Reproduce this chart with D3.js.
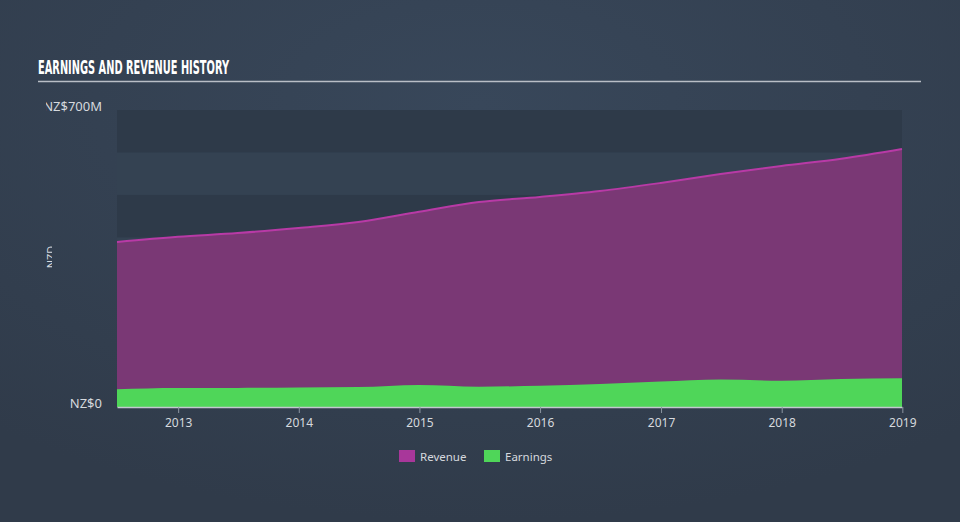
<!DOCTYPE html>
<html><head><meta charset="utf-8">
<script src="https://cdnjs.cloudflare.com/ajax/libs/d3/7.8.5/d3.min.js"></script>
<style>
html,body{margin:0;padding:0;}
body{width:960px;height:522px;overflow:hidden;background:#333f4f;}
</style></head>
<body>
<svg id="chart" width="960" height="522"></svg>
<script>
const dates = ["2012-06-30","2012-12-31","2013-06-30","2013-12-31","2014-06-30","2014-12-31","2015-06-30","2015-12-31","2016-06-30","2016-12-31","2017-06-30","2017-12-31","2018-06-30","2018-12-31"];
const revenue = [389,401,410,422,436,460,483,495,509,528,549,568,585,608];
const earnings = [42,45,45,46,47,52,48,50,54,60,65,62,66,68];
const yTickLabels = ["NZ$0","NZ$700M"];
const yTickValues = [0,700];
const xTickYears = [2013,2014,2015,2016,2017,2018,2019];

(function(){
const svg = d3.select("#chart");
const W = 960, H = 522;
const defs = svg.append("defs");
const grad = defs.append("radialGradient").attr("id","bg").attr("cx","50%").attr("cy","20%").attr("r","80%");
grad.append("stop").attr("offset","0%").attr("stop-color","#38475a");
grad.append("stop").attr("offset","100%").attr("stop-color","#303b4a");
svg.append("rect").attr("width",W).attr("height",H).attr("fill","url(#bg)");

const pL = 117, pR = 902, pT = 110, pB = 407;
const parse = d3.timeParse("%Y-%m-%d");
const data = dates.map((d,i)=>({date:parse(d), rev:revenue[i], earn:earnings[i]}));
const x = d3.scaleTime().domain([data[0].date, data[data.length-1].date]).range([pL,pR]);
const y = d3.scaleLinear().domain([0,700]).range([pB,pT]);

// title
svg.append("text").attr("x",38).attr("y",74).text("EARNINGS AND REVENUE HISTORY")
  .attr("fill","#ffffff").attr("font-family","'Liberation Sans Narrow','DejaVu Sans Condensed',sans-serif")
  .attr("font-weight","bold").attr("font-size",19)
  .attr("textLength",191).attr("lengthAdjust","spacingAndGlyphs");
svg.append("line").attr("x1",38).attr("x2",921).attr("y1",81.5).attr("y2",81.5).attr("stroke","#b9bec6").attr("stroke-width",1.5);

// bands
const bandVals = d3.range(0,700,100);
svg.append("g").selectAll("rect").data(bandVals).join("rect")
  .attr("x",pL).attr("width",pR-pL)
  .attr("y",d=>y(d+100)).attr("height",d=>y(d)-y(d+100))
  .attr("fill",(d,i)=> (i%2===0) ? "#2e3a49" : "#344252");

// areas
const curve = d3.curveMonotoneX;
const areaRev = d3.area().x(d=>x(d.date)).y0(y(0)).y1(d=>y(d.rev)).curve(curve);
const lineRev = d3.line().x(d=>x(d.date)).y(d=>y(d.rev)).curve(curve);
const areaEarn = d3.area().x(d=>x(d.date)).y0(y(0)).y1(d=>y(d.earn)).curve(curve);
svg.append("path").datum(data).attr("d",areaRev).attr("fill","#7a3875");
svg.append("path").datum(data).attr("d",lineRev).attr("fill","none").attr("stroke","#b83aa6").attr("stroke-width",2);
svg.append("path").datum(data).attr("d",areaEarn).attr("fill","#4fd659");

// x axis
const xAxis = d3.axisBottom(x).tickValues(xTickYears.map(yr=>new Date(yr,0,1))).tickFormat(d3.timeFormat("%Y")).tickSize(6).tickSizeOuter(0);
const gx = svg.append("g").attr("transform",`translate(0,${pB})`).call(xAxis);
gx.select(".domain").attr("stroke","#c3c8cf").attr("stroke-width",1.5);
gx.selectAll(".tick line").attr("stroke","#8c95a1");
gx.selectAll(".tick text").attr("fill","#d6d9de").attr("font-size",12).attr("font-family","'Noto Sans',sans-serif").attr("dy","0.95em");

// y labels
const clip = defs.append("clipPath").attr("id","yclip");
clip.append("rect").attr("x",46).attr("y",0).attr("width",100).attr("height",H);
svg.append("g").attr("clip-path","url(#yclip)").selectAll("text").data(yTickValues).join("text")
  .attr("x",102).attr("y",d=>y(d)-2).attr("text-anchor","end").attr("dominant-baseline","middle")
  .attr("fill","#d6d9de").attr("font-size",13).attr("font-family","'Noto Sans',sans-serif")
  .text((d,i)=>yTickLabels[i]);

// y axis title (clipped)
const clip2 = defs.append("clipPath").attr("id","ytclip");
clip2.append("rect").attr("x",0).attr("y",0).attr("width",52).attr("height",H);
svg.append("g").attr("clip-path","url(#ytclip)")
  .append("text").attr("transform","translate(55,257) rotate(-90)")
  .attr("text-anchor","middle").attr("fill","#d6d9de").attr("font-size",11).attr("font-family","'Noto Sans',sans-serif").text("NZD");

// legend
const legend = [{name:"Revenue",color:"#a8379a"},{name:"Earnings",color:"#4fd659"}];
const lg = svg.append("g");
const lx = [399,484];
legend.forEach((l,i)=>{
  lg.append("rect").attr("x",lx[i]).attr("y",450).attr("width",16).attr("height",12).attr("fill",l.color);
  lg.append("text").attr("x",lx[i]+21).attr("y",460.5).attr("fill","#d6d9de").attr("font-size",11.5).attr("font-family","'Noto Sans',sans-serif").text(l.name);
});
})();
</script>
</body></html>
